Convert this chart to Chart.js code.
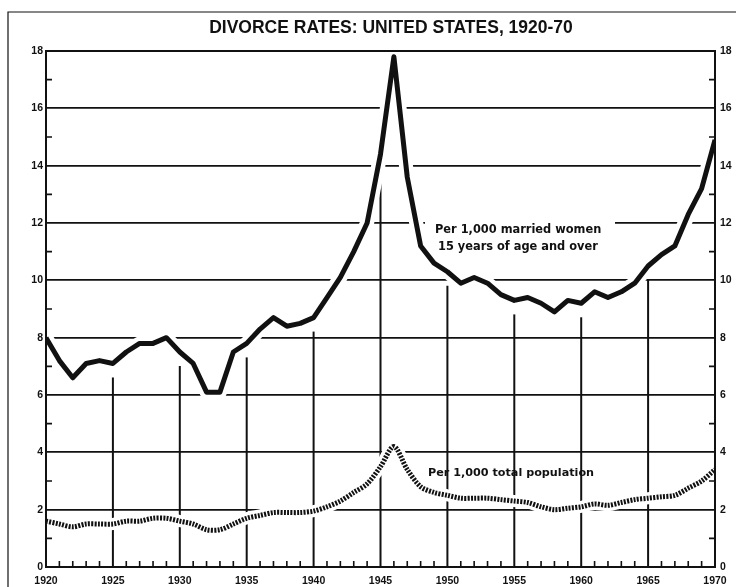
<!DOCTYPE html>
<html>
<head>
<meta charset="utf-8">
<script src="https://cdn.jsdelivr.net/npm/chart.js@4/dist/chart.umd.min.js"></script>
<style>
  html, body { margin: 0; padding: 0; background: #fff; }
  #wrap { width: 743px; height: 587px; }
</style>
</head>
<body>
<div id="wrap"><canvas id="divorceChart" width="743" height="587"></canvas></div>
<script>
// Divorce rates, United States 1920-70
const years = [1920, 1921, 1922, 1923, 1924, 1925, 1926, 1927, 1928, 1929,
               1930, 1931, 1932, 1933, 1934, 1935, 1936, 1937, 1938, 1939,
               1940, 1941, 1942, 1943, 1944, 1945, 1946, 1947, 1948, 1949,
               1950, 1951, 1952, 1953, 1954, 1955, 1956, 1957, 1958, 1959,
               1960, 1961, 1962, 1963, 1964, 1965, 1966, 1967, 1968, 1969, 1970];

// per 1,000 married women 15 years of age and over
const marriedWomenRate = [8.0, 7.2, 6.6, 7.1, 7.2, 7.1, 7.5, 7.8, 7.8, 8.0,
                          7.5, 7.1, 6.1, 6.1, 7.5, 7.8, 8.3, 8.7, 8.4, 8.5,
                          8.7, 9.4, 10.1, 11.0, 12.0, 14.4, 17.8, 13.6, 11.2, 10.6,
                          10.3, 9.9, 10.1, 9.9, 9.5, 9.3, 9.4, 9.2, 8.9, 9.3,
                          9.2, 9.6, 9.4, 9.6, 9.9, 10.5, 10.9, 11.2, 12.3, 13.2, 14.9];

// per 1,000 total population
const totalPopulationRate = [1.6, 1.5, 1.4, 1.5, 1.5, 1.5, 1.6, 1.6, 1.7, 1.7,
                             1.6, 1.5, 1.3, 1.3, 1.5, 1.7, 1.8, 1.9, 1.9, 1.9,
                             1.95, 2.1, 2.3, 2.6, 2.9, 3.5, 4.2, 3.4, 2.8, 2.6,
                             2.5, 2.4, 2.4, 2.4, 2.35, 2.3, 2.25, 2.1, 2.0, 2.05,
                             2.1, 2.2, 2.15, 2.25, 2.35, 2.4, 2.45, 2.5, 2.75, 3.0, 3.4];

const xTickYears = [1920, 1925, 1930, 1935, 1940, 1945, 1950, 1955, 1960, 1965, 1970];
const yTickValues = [0, 2, 4, 6, 8, 10, 12, 14, 16, 18];

const ink = "#111";

const toPoints = vals => years.map((yr, i) => ({ x: yr, y: vals[i] }));

// frame, short ticks, partial year lines and the notes
const paperPlugin = {
  id: "paper",
  beforeDatasetsDraw(chart) {
    const { ctx, chartArea: a, scales: { x, y } } = chart;
    ctx.save();
    // clear space behind the notes
    ctx.fillStyle = "#fff";
    ctx.fillRect(425, 219, 190, 37);
    ctx.fillRect(420, 461, 182, 25);

    // year lines stop just under the married-women curve
    ctx.strokeStyle = ink;
    ctx.lineWidth = 2;
    xTickYears.forEach(yr => {
      if (yr === 1920 || yr === 1970) return;
      const px = x.getPixelForValue(yr);
      const top = y.getPixelForValue(marriedWomenRate[years.indexOf(yr)]) + 14;
      ctx.beginPath();
      ctx.moveTo(px, a.bottom);
      ctx.lineTo(px, top);
      ctx.stroke();
    });
    ctx.restore();
  },
  afterDatasetsDraw(chart) {
    const { ctx, chartArea: a, scales: { x, y } } = chart;
    ctx.save();
    ctx.strokeStyle = ink;
    ctx.lineCap = "square";

    // box of the plot
    ctx.lineWidth = 2;
    ctx.beginPath();
    ctx.moveTo(a.left, a.top); ctx.lineTo(a.left, a.bottom);
    ctx.moveTo(a.right, a.top); ctx.lineTo(a.right, a.bottom);
    ctx.moveTo(a.left, a.bottom); ctx.lineTo(a.right, a.bottom);
    ctx.moveTo(a.left, a.top); ctx.lineTo(a.right, a.top);
    ctx.stroke();

    // minor ticks
    ctx.lineWidth = 1.6;
    ctx.lineCap = "butt";
    ctx.beginPath();
    for (let v = 1; v < 18; v += 2) {
      const py = y.getPixelForValue(v);
      ctx.moveTo(a.left, py); ctx.lineTo(a.left + 6, py);
      ctx.moveTo(a.right, py); ctx.lineTo(a.right - 6, py);
    }
    years.forEach(yr => {
      if (xTickYears.includes(yr)) return;
      const px = x.getPixelForValue(yr);
      ctx.moveTo(px, a.bottom); ctx.lineTo(px, a.bottom - 6);
    });
    ctx.stroke();

    // outer sheet border
    ctx.lineWidth = 1.2;
    ctx.beginPath();
    ctx.moveTo(8, 587); ctx.lineTo(8, 12); ctx.lineTo(736, 12);
    ctx.stroke();

    // notes
    ctx.fillStyle = ink;
    ctx.textBaseline = "middle";
    ctx.textAlign = "left";
    ctx.font = 'bold 11.4px "DejaVu Sans"';
    ctx.fillText("Per 1,000 married women", 435, 230);
    ctx.fillText("15 years of age and over", 438, 247);
    ctx.font = 'bold 11.2px "DejaVu Sans"';
    ctx.fillText("Per 1,000 total population", 428, 473);

    // title
    ctx.textAlign = "center";
    ctx.font = 'bold 17.5px "Liberation Sans"';
    ctx.fillText("DIVORCE RATES: UNITED STATES, 1920-70", 391, 28);
    ctx.restore();
  }
};

const tickFont = { family: "Liberation Sans", size: 10.5, weight: "bold" };

new Chart(document.getElementById("divorceChart"), {
  type: "line",
  data: {
    datasets: [
      {
        label: "Per 1,000 married women 15 years of age and over",
        data: toPoints(marriedWomenRate),
        borderColor: ink,
        borderWidth: 5,
        borderJoinStyle: "round",
        pointRadius: 0,
        tension: 0,
        order: 0
      },
      {
        label: "Per 1,000 total population",
        data: toPoints(totalPopulationRate),
        borderColor: ink,
        borderWidth: 5,
        borderDash: [2, 1.3],
        borderCapStyle: "butt",
        pointRadius: 0,
        tension: 0.3,
        order: 1
      },
      {
        label: "gap married",
        data: toPoints(marriedWomenRate),
        borderColor: "#fff",
        borderWidth: 14,
        borderJoinStyle: "round",
        pointRadius: 0,
        tension: 0,
        clip: 0,
        order: 10
      },
      {
        label: "gap total",
        data: toPoints(totalPopulationRate),
        borderColor: "#fff",
        borderWidth: 12,
        pointRadius: 0,
        tension: 0.3,
        clip: 0,
        order: 11
      }
    ]
  },
  options: {
    responsive: false,
    animation: false,
    layout: { padding: { top: 51, left: 0, right: 0, bottom: 0 } },
    plugins: {
      legend: { display: false },
      tooltip: { enabled: false },
      title: { display: false }
    },
    scales: {
      x: {
        type: "linear",
        min: 1920,
        max: 1970,
        afterBuildTicks: s => { s.ticks = xTickYears.map(v => ({ value: v })); },
        afterFit: s => { s.height = 20; },
        grid: { display: false },
        border: { display: false },
        ticks: { color: ink, font: tickFont, padding: 0, maxRotation: 0, callback: v => String(v) }
      },
      y: {
        position: "left",
        min: 0,
        max: 18,
        afterBuildTicks: s => { s.ticks = yTickValues.map(v => ({ value: v })); },
        afterFit: s => { s.width = 46; },
        grid: { color: ink, lineWidth: 1.8, drawTicks: false },
        border: { display: false },
        ticks: { color: ink, font: tickFont, padding: 3 }
      },
      y2: {
        position: "right",
        min: 0,
        max: 18,
        afterBuildTicks: s => { s.ticks = yTickValues.map(v => ({ value: v })); },
        afterFit: s => { s.width = 28; },
        grid: { display: false, drawTicks: false },
        border: { display: false },
        ticks: { color: ink, font: tickFont, padding: 5 }
      }
    }
  },
  plugins: [paperPlugin]
});
</script>
</body>
</html>
